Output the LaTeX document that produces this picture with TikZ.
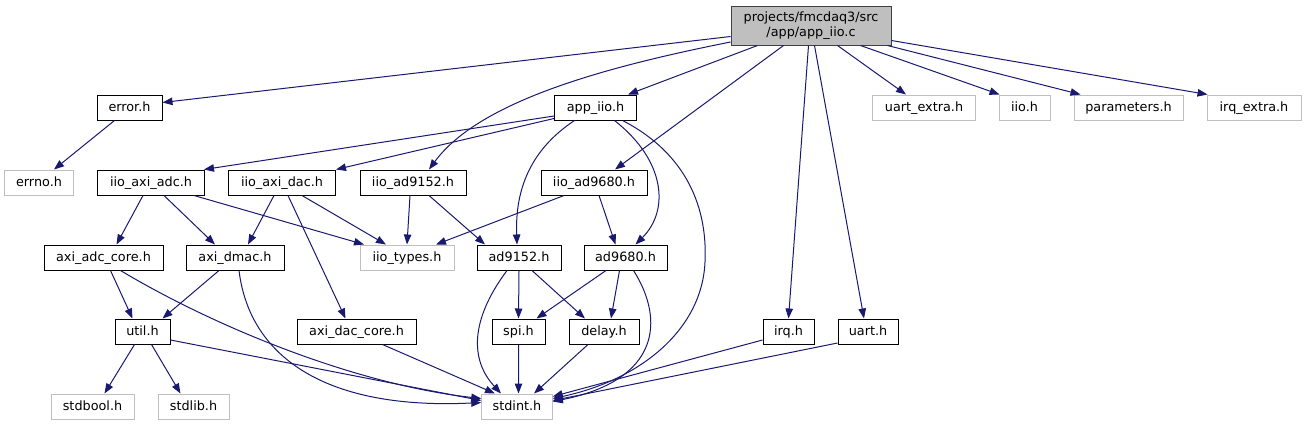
\documentclass[tikz,border=0pt]{standalone}
\usepackage{fontspec}
\setmainfont{DejaVu Sans}
\usetikzlibrary{arrows.meta,calc}
\definecolor{edgec}{HTML}{191970}
\definecolor{grayb}{HTML}{BFBFBF}
\definecolor{rootb}{HTML}{404040}
\tikzset{
  fbox/.style={draw=black, line width=1bp, fill=white, inner sep=0pt,
    minimum height=25bp, text height=10bp, text depth=2.6bp,
    font=\fontsize{12.85}{14.5}\selectfont, text=black},
  gbox/.style={fbox, draw=grayb},
  rootbox/.style={draw=rootb, line width=1bp, fill=grayb, inner sep=0pt,
    minimum height=39bp, minimum width=160bp, align=center,
    font=\fontsize{12.85}{14.5}\selectfont, text=black},
  edge/.style={draw=edgec, line width=1bp, -{Triangle[length=10bp,width=7.5bp]}},
}
\begin{document}
\begin{tikzpicture}[x=1bp,y=-1bp]
\useasboundingbox (0,0) rectangle (1305,425);
% row 0
\node[rootbox] (root) at (811,25.5) {projects/fmcdaq3/src\\/app/app\_iio.c};
% row 1
\node[fbox, minimum width=65bp] (error) at (129.5,107.5) {error.h};
\node[fbox, minimum width=82bp] (appiio) at (595.5,107.5) {app\_iio.h};
\node[gbox, minimum width=103bp] (uartx) at (924,107.5) {uart\_extra.h};
\node[gbox, minimum width=51bp] (iio) at (1024.5,107.5) {iio.h};
\node[gbox, minimum width=109bp] (params) at (1128.5,107.5) {parameters.h};
\node[gbox, minimum width=94bp] (irqx) at (1254,107.5) {irq\_extra.h};
% row 2
\node[gbox, minimum width=68bp] (errno) at (39,182.5) {errno.h};
\node[fbox, minimum width=107bp] (adc) at (151,182.5) {iio\_axi\_adc.h};
\node[fbox, minimum width=107bp] (dac) at (282,182.5) {iio\_axi\_dac.h};
\node[fbox, minimum width=106bp] (ad9152i) at (413,182.5) {iio\_ad9152.h};
\node[fbox, minimum width=106bp] (ad9680i) at (594,182.5) {iio\_ad9680.h};
% row 3
\node[fbox, minimum width=119bp] (adccore) at (103.5,257.5) {axi\_adc\_core.h};
\node[fbox, minimum width=98bp] (dmac) at (235,257.5) {axi\_dmac.h};
\node[gbox, minimum width=94bp] (types) at (407,257.5) {iio\_types.h};
\node[fbox, minimum width=84bp] (ad9152) at (519,257.5) {ad9152.h};
\node[fbox, minimum width=83bp] (ad9680) at (625.5,257.5) {ad9680.h};
% row 4
\node[fbox, minimum width=55bp] (util) at (142.5,331.5) {util.h};
\node[fbox, minimum width=119bp] (daccore) at (356.5,331.5) {axi\_dac\_core.h};
\node[fbox, minimum width=53bp] (spi) at (518.5,331.5) {spi.h};
\node[fbox, minimum width=70bp] (delay) at (604,331.5) {delay.h};
\node[fbox, minimum width=51bp] (irq) at (788.5,331.5) {irq.h};
\node[fbox, minimum width=60bp] (uart) at (868,331.5) {uart.h};
% row 5
\node[gbox, minimum width=83bp] (stdbool) at (92.5,406.5) {stdbool.h};
\node[gbox, minimum width=71bp] (stdlib) at (193.5,406.5) {stdlib.h};
\node[gbox, minimum width=70.5bp] (stdint) at (517,406.5) {stdint.h};

% edges from root
\draw[edge] ([yshift=-11bp]root.west) -- ([yshift=5bp]error.east);
\draw[edge] ([yshift=-16.5bp]root.west) .. controls (610,66) and (480,100) .. ([xshift=16bp]ad9152i.north);
\draw[edge] ([xshift=27bp]root.south west) -- ([xshift=-9bp]appiio.north east);
\draw[edge] ([xshift=53bp]root.south west) -- ([xshift=21bp]ad9680i.north);
\draw[edge] ([xshift=78bp]root.south west) -- (irq.north);
\draw[edge] ([xshift=84bp]root.south west) -- ([xshift=-4bp]uart.north);
\draw[edge] ([xshift=107bp]root.south west) -- ([xshift=-18bp]uartx.north);
\draw[edge] ([xshift=130bp]root.south west) -- ([xshift=1bp]iio.north west);
\draw[edge] ([xshift=-4bp]root.south east) -- ([xshift=-48bp]params.north);
\draw[edge] ([yshift=-15bp]root.east) -- ([xshift=1bp]irqx.north west);
% error
\draw[edge] ([xshift=-15bp]error.south) -- ([xshift=15bp]errno.north);
% app_iio
\draw[edge] ([yshift=-8.5bp]appiio.west) -- ([xshift=-1bp]adc.north east);
\draw[edge] ([yshift=-11bp]appiio.west) -- (dac.north east);
\draw[edge] ([xshift=-21bp]appiio.south) .. controls (530,150) and (515,190) .. ([xshift=-2bp]ad9152.north);
\draw[edge] ([xshift=19bp]appiio.south) .. controls (665,160) and (670,210) .. ([xshift=10bp]ad9680.north);
\draw[edge] ([xshift=27bp]appiio.south) .. controls (680,150) and (708,200) .. (705,262)
  .. controls (702,330) and (640,380) .. ([yshift=8bp]stdint.east);
% iio_axi_adc
\draw[edge] ([xshift=-8bp]adc.south) -- ([xshift=13bp]adccore.north);
\draw[edge] ([xshift=13bp]adc.south) -- ([xshift=-20bp]dmac.north);
\draw[edge] ([xshift=43bp]adc.south) -- ([xshift=-43bp]types.north);
% iio_axi_dac
\draw[edge] ([xshift=-8bp]dac.south) -- ([xshift=13bp]dmac.north);
\draw[edge] ([xshift=6bp]dac.south) -- ([xshift=-11bp]daccore.north);
\draw[edge] ([xshift=20bp]dac.south) -- ([xshift=-21bp]types.north);
% iio_ad9152
\draw[edge] ([xshift=-3bp]ad9152i.south) -- (types.north);
\draw[edge] ([xshift=16bp]ad9152i.south) -- ([xshift=-34bp]ad9152.north);
% iio_ad9680
\draw[edge] ([xshift=-30bp]ad9680i.south) -- ([xshift=29bp]types.north);
\draw[edge] ([xshift=5bp]ad9680i.south) -- ([xshift=-10bp]ad9680.north);
% axi_adc_core
\draw[edge] ([xshift=7bp]adccore.south) -- ([xshift=-10bp]util.north);
\draw[edge] ([xshift=17bp]adccore.south) .. controls (220,330) and (360,385) .. ([yshift=8bp]stdint.west);
% axi_dmac
\draw[edge] ([xshift=-16bp]dmac.south) -- ([xshift=20bp]util.north);
\draw[edge] ([xshift=4bp]dmac.south) .. controls (250,360) and (330,410) .. ([yshift=4bp]stdint.west);
% util
\draw[edge] ([xshift=-8bp]util.south) -- ([xshift=12bp]stdbool.north);
\draw[edge] ([xshift=9bp]util.south) -- ([xshift=-13bp]stdlib.north);
\draw[edge] ([yshift=-8.5bp]util.east) -- ([yshift=6bp]stdint.west);
% axi_dac_core
\draw[edge] ([xshift=26bp]daccore.south) -- ([xshift=-22bp]stdint.north);
% ad9152
\draw[edge] (ad9152.south) -- (spi.north);
\draw[edge] ([xshift=13bp]ad9152.south) -- ([xshift=-19bp]delay.north);
\draw[edge] ([xshift=-12bp]ad9152.south) .. controls (470,320) and (470,360) .. ([xshift=-16bp]stdint.north);
% ad9680
\draw[edge] ([xshift=-19.5bp]ad9680.south) -- ([xshift=18bp]spi.north);
\draw[edge] ([xshift=-6bp]ad9680.south) -- ([xshift=7bp]delay.north);
\draw[edge] ([xshift=8bp]ad9680.south) .. controls (665,320) and (660,380) .. ([yshift=5bp]stdint.east);
% spi, delay, irq, uart
\draw[edge] (spi.south) -- ([xshift=1.5bp]stdint.north);
\draw[edge] ([xshift=-16bp]delay.south) -- ([xshift=17bp]stdint.north);
\draw[edge] ([yshift=-8.5bp]irq.west) -- ([yshift=10bp]stdint.east);
\draw[edge] ([yshift=1.5bp]uart.south west) -- ([yshift=6bp]stdint.east);
\end{tikzpicture}
\end{document}
